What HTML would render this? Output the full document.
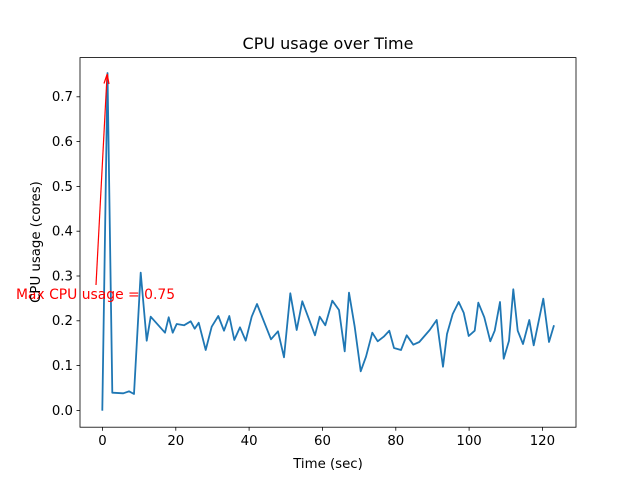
<!DOCTYPE html>
<html><head><style>body{margin:0;background:#fff}svg{display:block}</style></head><body>
<svg width="640" height="480" xmlns="http://www.w3.org/2000/svg" font-family="DejaVu Sans, Liberation Sans, sans-serif">
<rect width="640" height="480" fill="#fff"/>
<polyline fill="none" stroke="#1f77b4" stroke-width="1.8" stroke-linejoin="round" points="102.3,410.7 107.5,73 112.3,392.7 123.3,393.3 129,391.3 134,394 140.7,272.7 146.7,340.7 150.7,316.7 165,332.7 168.7,317.3 172.7,332.7 176.7,324 184,325.3 190.7,321.3 194.7,328.7 198.7,322.7 205.7,350 211.7,326.7 218.3,316 224,330.7 229.3,316 234.3,340 240,327.3 245.7,340.7 251.7,316.7 257,304 271,339.3 278,331.3 284,357.3 290.3,293.3 296.7,330 302.3,301.3 315,335.3 319.7,316.7 325.3,325.3 332.3,300.7 339,310 344.7,351.3 349,292.7 354.7,326.7 360.7,371.3 366,356.7 372.3,332.7 377.7,341.3 383.7,336.7 389.3,330.7 394,348 401,350 406.7,335.3 413.3,344.7 419.3,342 429.7,330 436.7,320 443,366.7 447,334 452.7,314 458.7,302 463.7,312.7 468.7,336 474.7,330.7 478.3,302.7 484.3,317.3 490.3,341.3 494.7,330.7 500,302 503.7,358.7 509,340.7 513.3,289.3 517.7,330.7 523,344 529.3,320 533.7,345.3 543.3,298.7 549,342 554,325.3"/>
<line x1="96" y1="285" x2="107" y2="76" stroke="red" stroke-width="1.2"/>
<polyline points="104,83.5 107.2,74 109,84" fill="none" stroke="red" stroke-width="1.2"/>
<text x="95.5" y="299" fill="red" font-size="13.9" text-anchor="middle">Max CPU usage = 0.75</text>
<rect x="80" y="57.6" width="496" height="369.6" fill="none" stroke="#000" stroke-width="0.8"/>
<g stroke="#000" stroke-width="0.8">
<line x1="102.5" y1="427.2" x2="102.5" y2="430.7"/><line x1="175.8" y1="427.2" x2="175.8" y2="430.7"/><line x1="249.1" y1="427.2" x2="249.1" y2="430.7"/><line x1="322.5" y1="427.2" x2="322.5" y2="430.7"/><line x1="395.8" y1="427.2" x2="395.8" y2="430.7"/><line x1="469.1" y1="427.2" x2="469.1" y2="430.7"/><line x1="542.4" y1="427.2" x2="542.4" y2="430.7"/>
<line x1="76.5" y1="410.4" x2="80" y2="410.4"/><line x1="76.5" y1="365.6" x2="80" y2="365.6"/><line x1="76.5" y1="320.8" x2="80" y2="320.8"/><line x1="76.5" y1="276" x2="80" y2="276"/><line x1="76.5" y1="231.2" x2="80" y2="231.2"/><line x1="76.5" y1="186.4" x2="80" y2="186.4"/><line x1="76.5" y1="141.6" x2="80" y2="141.6"/><line x1="76.5" y1="96.8" x2="80" y2="96.8"/>
</g>
<g font-size="13.3" fill="#000" text-anchor="middle">
<text x="102.5" y="445">0</text><text x="175.8" y="445">20</text><text x="249.1" y="445">40</text><text x="322.5" y="445">60</text><text x="395.8" y="445">80</text><text x="469.1" y="445">100</text><text x="542.4" y="445">120</text>
<text x="328" y="468">Time (sec)</text>
<text x="328" y="49" font-size="16">CPU usage over Time</text>
</g>
<g font-size="13.3" fill="#000" text-anchor="end">
<text x="73" y="415">0.0</text><text x="73" y="370">0.1</text><text x="73" y="325">0.2</text><text x="73" y="280.5">0.3</text><text x="73" y="235.5">0.4</text><text x="73" y="191">0.5</text><text x="73" y="146">0.6</text><text x="73" y="101">0.7</text>
</g>
<text transform="translate(40,242) rotate(-90)" font-size="13.3" text-anchor="middle">CPU usage (cores)</text>
</svg>
</body></html>
